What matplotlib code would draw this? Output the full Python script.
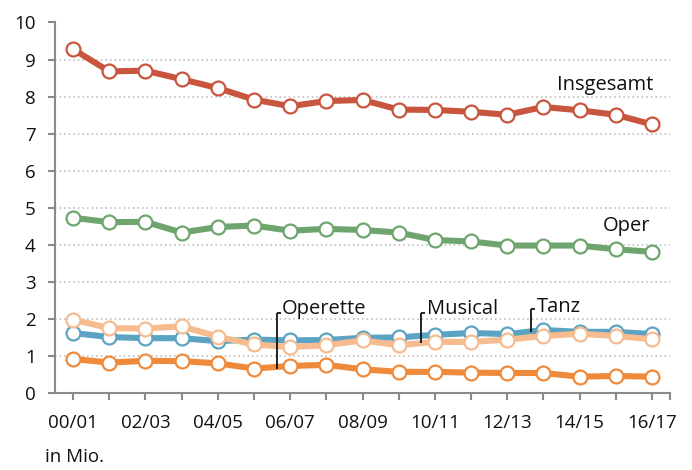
import matplotlib
matplotlib.use("Agg")
import matplotlib.pyplot as plt
import numpy as np

plt.rcParams['font.family'] = ['Open Sans', 'DejaVu Sans']

seasons = ["00/01", "01/02", "02/03", "03/04", "04/05", "05/06", "06/07", "07/08",
           "08/09", "09/10", "10/11", "11/12", "12/13", "13/14", "14/15", "15/16", "16/17"]

insgesamt = [9.28, 8.68, 8.70, 8.47, 8.23, 7.92, 7.74, 7.88, 7.91, 7.65, 7.64, 7.59, 7.51, 7.72, 7.63, 7.51, 7.25]
oper      = [4.73, 4.61, 4.62, 4.33, 4.48, 4.52, 4.38, 4.43, 4.40, 4.33, 4.13, 4.09, 3.98, 3.98, 3.98, 3.88, 3.81]
tanz      = [1.62, 1.51, 1.48, 1.48, 1.40, 1.44, 1.42, 1.43, 1.49, 1.50, 1.57, 1.62, 1.59, 1.70, 1.65, 1.65, 1.59]
musical   = [1.98, 1.75, 1.74, 1.80, 1.52, 1.31, 1.24, 1.29, 1.42, 1.29, 1.38, 1.38, 1.44, 1.54, 1.60, 1.54, 1.45]
operette  = [0.92, 0.82, 0.87, 0.86, 0.80, 0.66, 0.73, 0.76, 0.64, 0.57, 0.57, 0.55, 0.54, 0.54, 0.44, 0.46, 0.44]

series = [
    ("Insgesamt", insgesamt, "#C8553D"),
    ("Oper", oper, "#6EA56F"),
    ("Tanz", tanz, "#5AA3C2"),
    ("Musical", musical, "#F6BB8E"),
    ("Operette", operette, "#EE8A3A"),
]

fig = plt.figure(figsize=(6.92, 4.70), dpi=100)
ax = fig.add_axes([55/692, 1 - 393/470, (670-55)/692, (393-22.5)/470])

x = np.arange(len(seasons))
for i, (name, vals, col) in enumerate(series):
    ax.plot(x, vals, color=col, lw=4.4, marker='o', ms=10, mfc='white',
            mec=col, mew=1.6, zorder=3 + i, solid_capstyle='round')

ax.set_xlim(-0.5, 16.5)
ax.set_ylim(0, 10)
ax.set_yticks(range(0, 11))
ax.set_xticks(x)
ax.set_xticklabels([s if i % 2 == 0 else "" for i, s in enumerate(seasons)])
ax.set_xticks([16.5], minor=True)

for s in ["top", "right"]:
    ax.spines[s].set_visible(False)
for s in ["left", "bottom"]:
    ax.spines[s].set_color("#8a8a8a")
    ax.spines[s].set_linewidth(1.5)

ax.tick_params(axis='both', which='both', color="#8a8a8a", width=1.5, length=5,
               labelsize=13.5, labelcolor="#111111")
ax.tick_params(axis='y', pad=9)
ax.tick_params(axis='x', pad=10)

ax.grid(axis='y', linestyle=(0, (1, 2)), color="#b5b5b5", lw=1.1, zorder=0)
ax.set_axisbelow(True)

# Labels
txt_kw = dict(fontsize=14.5, color="#111111", zorder=20)
ax.text(14.72, 8.3, "Insgesamt", ha='center', va='center', **txt_kw)
ax.text(15.3, 4.5, "Oper", ha='center', va='center', **txt_kw)
ax.text(5.76, 2.28, "Operette", ha='left', va='center', **txt_kw)
ax.text(9.78, 2.28, "Musical", ha='left', va='center', **txt_kw)
ax.text(12.83, 2.33, "Tanz", ha='left', va='center', **txt_kw)

# Leader lines
lk = dict(color="#111111", lw=1.3, zorder=20, solid_capstyle='butt')
ax.plot([5.64, 5.64], [0.66, 2.17], **lk)
ax.plot([5.64, 5.75], [2.17, 2.17], **lk)
ax.plot([9.63, 9.63], [1.36, 2.17], **lk)
ax.plot([9.63, 9.74], [2.17, 2.17], **lk)
ax.plot([12.66, 12.66], [1.65, 2.26], **lk)
ax.plot([12.66, 12.77], [2.26, 2.26], **lk)

fig.text(45/692, 1 - 457/470, "in Mio.", fontsize=13.5, color="#111111", ha='left', va='center')

fig.savefig("out.png", dpi=100)
